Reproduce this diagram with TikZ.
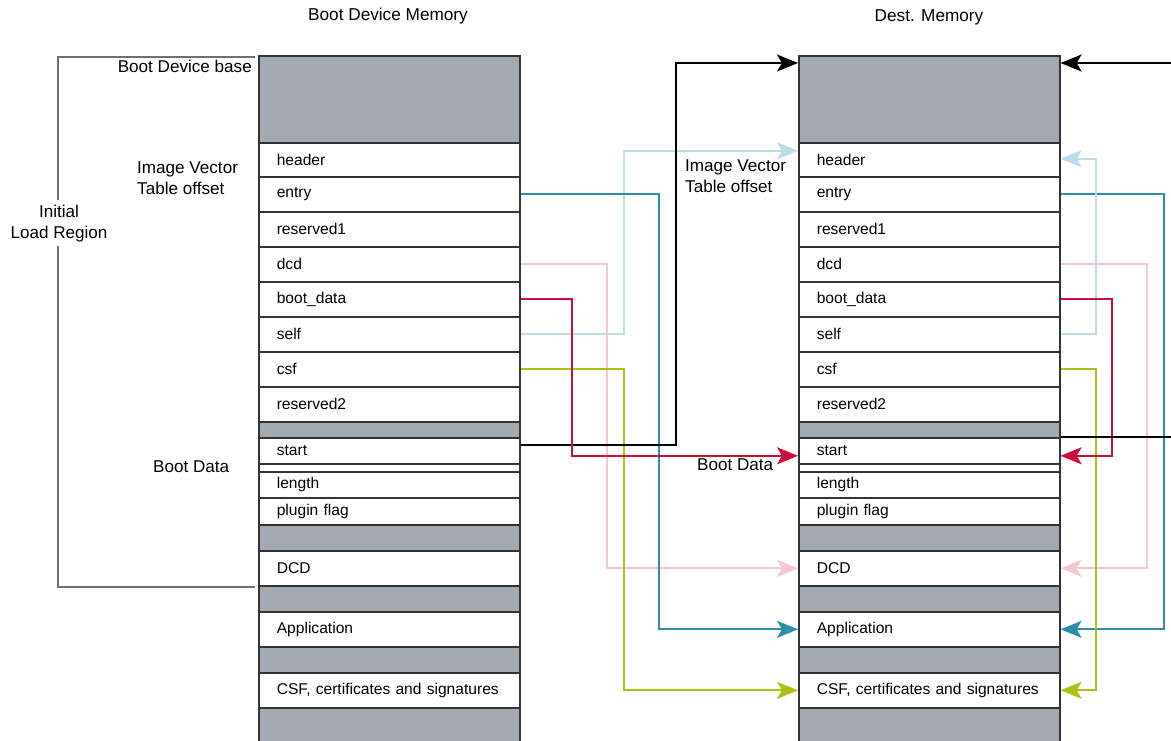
\documentclass[tikz,border=0pt]{standalone}
\usepackage{fontspec}
\setmainfont{Liberation Sans}
\usetikzlibrary{arrows.meta}
\definecolor{memgray}{HTML}{A2A9B1}
\definecolor{cellline}{HTML}{333333}
\definecolor{cteal}{HTML}{2E8EA9}
\definecolor{clblue}{HTML}{BCDCE6}
\definecolor{cpink}{HTML}{F4C8D3}
\definecolor{ccrim}{HTML}{CF0A3E}
\definecolor{colive}{HTML}{AEC016}
\definecolor{bracketgray}{HTML}{707070}
\newcommand\memcolumn[2]{%
  \node[graycell=87pt] (#1g0) at (#2,55) {};
  \node[cell=34pt] (#1head) at (#2,142) {header};
  \node[cell=35pt] (#1entry) at (#2,176) {entry};
  \node[cell=35pt] (#1res1) at (#2,211) {reserved1};
  \node[cell=35pt] (#1dcd) at (#2,246) {dcd};
  \node[cell=35pt] (#1boot) at (#2,281) {boot\_data};
  \node[cell=35pt] (#1self) at (#2,316) {self};
  \node[cell=35pt] (#1csf) at (#2,351) {csf};
  \node[cell=35pt] (#1res2) at (#2,386) {reserved2};
  \node[graycell=16pt] (#1g1) at (#2,421) {};
  \node[cell=26pt] (#1start) at (#2,437) {start};
  \node[cell=8pt] (#1gap) at (#2,463) {};
  \node[cell=26pt] (#1len) at (#2,471) {length};
  \node[cell=27pt] (#1plug) at (#2,497) {plugin flag};
  \node[graycell=26pt] (#1g2) at (#2,524) {};
  \node[cell=35pt] (#1DCD) at (#2,550) {DCD};
  \node[graycell=26pt] (#1g3) at (#2,585) {};
  \node[cell=35pt] (#1app) at (#2,611) {Application};
  \node[graycell=26pt] (#1g4) at (#2,646) {};
  \node[cell=35pt] (#1CSF) at (#2,672) {CSF, certificates and signatures};
  \node[graycell=45pt] (#1g5) at (#2,707) {};
}
\begin{document}
\begin{tikzpicture}[x=1pt,y=-1pt,
  cell/.style={draw=cellline, line width=1.6pt, fill=white, anchor=north west,
    minimum width=261pt, minimum height=#1, inner xsep=18pt, inner ysep=0pt,
    text width=225pt, align=left, font=\fontsize{15.6}{18}\selectfont},
  graycell/.style={cell=#1, fill=memgray},
  conn/.style={draw=#1, line width=1.8pt, -{Stealth[length=21pt,width=17pt,inset=5pt]}},
  plain/.style={draw=#1, line width=1.8pt},
  lbl/.style={inner sep=0pt, font=\fontsize{17.1}{21}\selectfont},
  ttl/.style={inner sep=0pt, font=\fontsize{17.2}{20}\selectfont}]
\useasboundingbox (0,0) rectangle (1171,741);
\fill[white] (0,0) rectangle (1171,741);

\memcolumn{L}{258}
\memcolumn{R}{798}

% titles and labels
\node[ttl] (tLeft) at (388,16) {Boot Device Memory};
\node[ttl] (tRight) at (929,17) {Dest. Memory};
\node[lbl, anchor=east] (lBase) at (252,66) {Boot Device base};
\node[lbl, anchor=west, align=left] (lIVTL) at (137,178) {Image Vector\\Table offset};
\node[lbl, anchor=west, align=left] (lIVTR) at (685,176) {Image Vector\\Table offset};
\node[lbl, align=center] (lInit) at (59,224) {Initial\\Load Region};
\node[lbl, anchor=west] (lBDL) at (153,467) {Boot Data};
\node[lbl, anchor=west] (lBDR) at (697,465) {Boot Data};

% bracket
\coordinate (bTop) at (255,57);
\coordinate (bBot) at (255,587);
\draw[bracketgray, line width=1.3pt] (bTop) -- (58,57) -- (58,200);
\draw[bracketgray, line width=1.3pt] (58,246) -- (58,587) -- (bBot);

% channels
\coordinate (chStart) at (676,0);
\coordinate (chEntry) at (659,0);
\coordinate (chSelf) at (624,0);
\coordinate (chDcd) at (607,0);
\coordinate (chBoot) at (572,0);
\coordinate (chCsf) at (624,0);
\coordinate (rEntry) at (1164,0);
\coordinate (rDcd) at (1147,0);
\coordinate (rBoot) at (1112,0);
\coordinate (rSelf) at (1096,0);
\coordinate (rCsf) at (1096,0);

% offset anchors
\coordinate (sStartL) at ([yshift=6pt]Lstart.east);
\coordinate (tTopR) at ([yshift=-8pt]Rg0.north west);
\coordinate (tHeadR) at ([yshift=9pt]Rhead.west);
\coordinate (tStartR) at ([yshift=-5pt]Rstart.west);
\coordinate (tStartRe) at ([yshift=-5pt]Rstart.east);
\coordinate (tHeadRe) at ([yshift=1pt]Rhead.east);
\coordinate (tTopRe) at ([yshift=-8pt]Rg0.north east);
\coordinate (eTop) at (1171,63);
\coordinate (eMid) at (1171,437);

% left to right connectors
\draw[conn=cpink] (Ldcd.east) -- (Ldcd.east -| chDcd) -- (chDcd |- RDCD.west) -- (RDCD.west);
\draw[conn=clblue] (Lself.east) -- (Lself.east -| chSelf) -- (chSelf |- tHeadR) -- (tHeadR);
\draw[conn=cteal] (Lentry.east) -- (Lentry.east -| chEntry) -- (chEntry |- Rapp.west) -- (Rapp.west);
\draw[conn=colive] (Lcsf.east) -- (Lcsf.east -| chCsf) -- (chCsf |- RCSF.west) -- (RCSF.west);
\draw[conn=black] (sStartL) -- (sStartL -| chStart) -- (chStart |- tTopR) -- (tTopR);
\draw[conn=ccrim] (Lboot.east) -- (Lboot.east -| chBoot) -- (chBoot |- tStartR) -- (tStartR);

% right side connectors
\draw[conn=cpink] (Rdcd.east) -- (Rdcd.east -| rDcd) -- (rDcd |- RDCD.east) -- (RDCD.east);
\draw[conn=cteal] (Rentry.east) -- (Rentry.east -| rEntry) -- (rEntry |- Rapp.east) -- (Rapp.east);
\draw[conn=clblue] (Rself.east) -- (Rself.east -| rSelf) -- (rSelf |- tHeadRe) -- (tHeadRe);
\draw[conn=colive] (Rcsf.east) -- (Rcsf.east -| rCsf) -- (rCsf |- RCSF.east) -- (RCSF.east);
\draw[conn=ccrim] (Rboot.east) -- (Rboot.east -| rBoot) -- (rBoot |- tStartRe) -- (tStartRe);
\draw[conn=black] (eTop) -- (tTopRe);
\draw[plain=black, line width=1.5pt] (Rstart.north east) -- (eMid);
\end{tikzpicture}
\end{document}
